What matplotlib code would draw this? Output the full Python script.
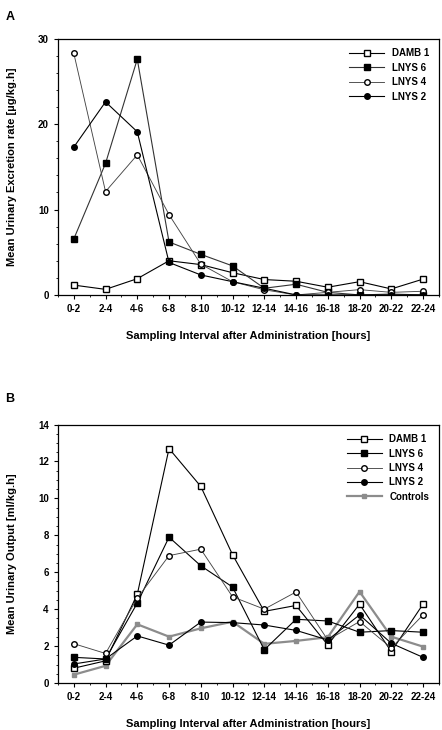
import matplotlib
matplotlib.use('Agg')
import matplotlib.pyplot as plt
from matplotlib.ticker import MultipleLocator

plt.rcParams['font.family'] = ['Liberation Sans', 'DejaVu Sans']
plt.rcParams['font.weight'] = 'bold'

intervals = ['0-2', '2-4', '4-6', '6-8', '8-10', '10-12', '12-14',
             '14-16', '16-18', '18-20', '20-22', '22-24']

# Panel A: mean urinary excretion rate [ug/kg.h]
exc_damb1 = [1.15, 0.65, 1.9, 4.0, 3.55, 2.6, 1.8, 1.6, 0.9, 1.55, 0.7, 1.85]
exc_lnys6 = [6.55, 15.4, 27.6, 6.2, 4.75, 3.4, 0.78, 1.25, 0.3, 0.0, 0.1, 0.0]
exc_lnys4 = [28.3, 12.1, 16.4, 9.4, 3.6, 1.55, 0.6, 0.0, 0.3, 0.62, 0.3, 0.43]
exc_lnys2 = [17.3, 22.6, 19.1, 3.8, 2.34, 1.55, 0.78, 0.0, 0.0, 0.0, 0.0, 0.0]

# Panel B: mean urinary output [ml/kg.h]
out_damb1 = [0.8, 1.2, 4.8, 12.7, 10.65, 6.95, 3.88, 4.2, 2.06, 4.27, 1.7, 4.27]
out_lnys6 = [1.39, 1.3, 4.33, 7.9, 6.35, 5.2, 1.8, 3.45, 3.36, 2.75, 2.84, 2.75]
out_lnys4 = [2.13, 1.6, 4.6, 6.9, 7.25, 4.67, 4.0, 4.93, 2.33, 3.33, 1.9, 3.69]
out_lnys2 = [1.03, 1.3, 2.55, 2.05, 3.3, 3.27, 3.14, 2.85, 2.33, 3.69, 2.15, 1.39]
out_ctrl = [0.45, 0.93, 3.18, 2.51, 2.96, 3.32, 2.12, 2.28, 2.48, 4.95, 2.51, 1.97]

x = list(range(len(intervals)))

fig = plt.figure(figsize=(4.42, 7.30), dpi=100)
axA = fig.add_axes([0.131, 0.596, 0.862, 0.351])
axB = fig.add_axes([0.131, 0.0644, 0.862, 0.354])

lw = 0.8
ms = 4.0


def style_axis(ax, ymax, major, minor, ylabel):
    ax.set_xlim(-0.5, 11.5)
    ax.set_ylim(0, ymax)
    ax.set_xticks(x)
    ax.set_xticklabels(intervals)
    ax.xaxis.set_minor_locator(MultipleLocator(0.5))
    ax.yaxis.set_major_locator(MultipleLocator(major))
    ax.yaxis.set_minor_locator(MultipleLocator(minor))
    ax.tick_params(axis='both', which='major', labelsize=7, length=3, width=0.8, direction='out')
    ax.tick_params(axis='both', which='minor', length=1.5, width=0.6, direction='out')
    for lab in ax.get_xticklabels() + ax.get_yticklabels():
        lab.set_fontweight('bold')
    ax.set_xlabel('Sampling Interval after Administration [hours]', fontsize=8, fontweight='bold', labelpad=12)
    ax.set_ylabel(ylabel, fontsize=8, fontweight='bold', labelpad=15)
    for sp in ax.spines.values():
        sp.set_linewidth(0.9)


# Panel A
axA.plot(x, exc_damb1, color='black', lw=lw, marker='s', ms=ms, mfc='white', mec='black', label='DAMB 1')
axA.plot(x, exc_lnys6, color='#333333', lw=lw, marker='s', ms=ms, mfc='black', mec='black', label='LNYS 6')
axA.plot(x, exc_lnys4, color='#444444', lw=lw * 0.8, marker='o', ms=ms, mfc='white', mec='black', label='LNYS 4')
axA.plot(x, exc_lnys2, color='black', lw=lw, marker='o', ms=ms, mfc='black', mec='black', label='LNYS 2')
style_axis(axA, 30, 10, 2, 'Mean Urinary Excretion rate [\u00b5g/kg.h]')
axA.legend(loc='upper right', frameon=False, handlelength=3.6,
           labelspacing=0.45, borderaxespad=0.6, prop={'weight': 'bold', 'size': 7})

# Panel B
axB.plot(x, out_damb1, color='black', lw=lw, marker='s', ms=ms, mfc='white', mec='black', label='DAMB 1', zorder=4)
axB.plot(x, out_lnys6, color='black', lw=lw, marker='s', ms=ms, mfc='black', mec='black', label='LNYS 6', zorder=4)
axB.plot(x, out_lnys4, color='#444444', lw=lw * 0.8, marker='o', ms=ms, mfc='white', mec='black', label='LNYS 4', zorder=4)
axB.plot(x, out_lnys2, color='black', lw=lw, marker='o', ms=ms, mfc='black', mec='black', label='LNYS 2', zorder=4)
axB.plot(x, out_ctrl, color='#8c8c8c', lw=1.6, marker='s', ms=2.5, mfc='#8c8c8c', mec='#8c8c8c', label='Controls', zorder=3)
style_axis(axB, 14, 2, 0.5, 'Mean Urinary Output [ml/kg.h]')
axB.legend(loc='upper right', frameon=False, handlelength=3.6,
           labelspacing=0.45, borderaxespad=0.6, prop={'weight': 'bold', 'size': 7})

fig.text(0.012, 0.985, 'A', fontsize=9, fontweight='bold', va='top')
fig.text(0.012, 0.462, 'B', fontsize=9, fontweight='bold', va='top')

fig.savefig('out.png', dpi=100)
